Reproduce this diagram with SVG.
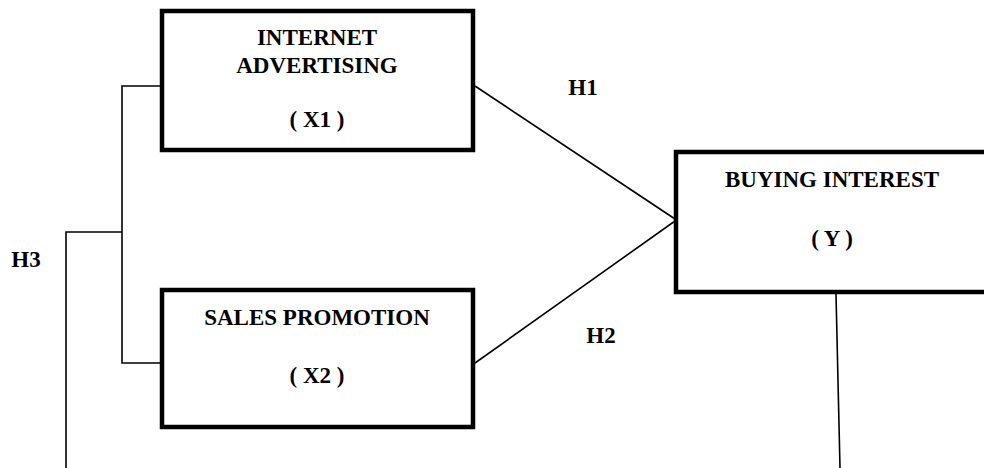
<svg xmlns="http://www.w3.org/2000/svg" width="984" height="468" viewBox="0 0 984 468">
<style>
.box{fill:#fff;stroke:#000;stroke-width:4.5}
.t{font-family:"Liberation Serif","Times New Roman",serif;font-weight:bold;font-size:23px;fill:#000;text-anchor:middle}
.c{fill:none;stroke:#000;stroke-width:1.6}
</style>
<rect width="984" height="468" fill="#fff"/>
<g id="connectors">
<polyline class="c" points="162,86 122,86 122,363 162,363"/>
<polyline class="c" points="122,232 66,232 66,468"/>
<line class="c" x1="475" y1="86" x2="675" y2="219"/>
<line class="c" x1="475" y1="363" x2="675" y2="221"/>
<line class="c" x1="836" y1="294" x2="840" y2="468"/>
</g>
<g id="x1">
<rect class="box" x="162" y="11" width="311" height="139"/>
<text class="t" x="317" y="45">INTERNET</text>
<text class="t" x="317" y="73">ADVERTISING</text>
<text class="t" x="317" y="127">( X1 )</text>
</g>
<g id="x2">
<rect class="box" x="162" y="290" width="311" height="137"/>
<text class="t" x="317" y="325">SALES PROMOTION</text>
<text class="t" x="317" y="383">( X2 )</text>
</g>
<g id="y">
<rect class="box" x="676" y="152" width="314" height="140"/>
<text class="t" x="832" y="187">BUYING INTEREST</text>
<text class="t" x="832" y="246">( Y )</text>
</g>
<g id="labels">
<text class="t" x="583" y="95">H1</text>
<text class="t" x="601" y="343">H2</text>
<text class="t" x="26" y="267">H3</text>
</g>
</svg>
